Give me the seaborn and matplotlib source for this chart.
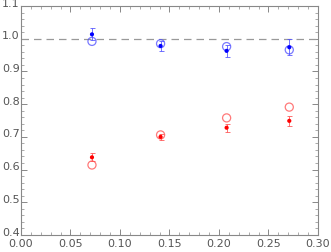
import matplotlib
matplotlib.use("Agg")
import matplotlib.pyplot as plt
import matplotlib.transforms as mtransforms
import seaborn as sns
import numpy as np
from matplotlib.ticker import MultipleLocator

# data
x = [0.0717, 0.141, 0.2077, 0.271]
blue_filled = [1.0135, 0.978, 0.963, 0.974]
blue_err = [0.018, 0.015, 0.018, 0.024]
blue_open = [0.992, 0.985, 0.976, 0.966]
red_filled = [0.6375, 0.700, 0.728, 0.749]
red_err = [0.012, 0.010, 0.012, 0.016]
red_open = [0.614, 0.706, 0.758, 0.791]

sns.set_style("ticks")
plt.rcParams['font.family'] = ['DejaVu Sans']

fig = plt.figure(figsize=(3.31, 2.52), dpi=100)
ax = fig.add_axes([0.0634, 0.0675, 0.8973, 0.9085])

ax.axhline(1.0, color='#999999', lw=0.9, ls=(0, (6, 4)), zorder=1)

ax.errorbar(x, blue_filled, yerr=blue_err, fmt='none', ecolor=(0.3, 0.3, 1.0, 0.8),
            elinewidth=0.7, capsize=1.8, capthick=0.7, zorder=2)
ax.errorbar(x, red_filled, yerr=red_err, fmt='none', ecolor=(1.0, 0.3, 0.3, 0.8),
            elinewidth=0.7, capsize=1.8, capthick=0.7, zorder=2)

sns.scatterplot(x=x, y=blue_open, ax=ax, marker='o', s=34, facecolor='none',
                edgecolor=(0.3, 0.3, 1.0, 0.75), linewidth=0.9, zorder=3)
sns.scatterplot(x=x, y=red_open, ax=ax, marker='o', s=34, facecolor='none',
                edgecolor=(1.0, 0.3, 0.3, 0.75), linewidth=0.9, zorder=3)
sns.scatterplot(x=x, y=blue_filled, ax=ax, marker='o', s=9, color='blue',
                edgecolor='none', zorder=4)
sns.scatterplot(x=x, y=red_filled, ax=ax, marker='o', s=9, color='red',
                edgecolor='none', zorder=4)

ax.set_xlim(0, 0.30)
ax.set_ylim(0.4, 1.1)
ax.xaxis.set_major_locator(MultipleLocator(0.05))
ax.xaxis.set_minor_locator(MultipleLocator(0.01))
ax.yaxis.set_major_locator(MultipleLocator(0.1))
ax.yaxis.set_minor_locator(MultipleLocator(0.02))
ax.set_xticks(np.arange(0, 0.301, 0.05))
ax.set_xticklabels(['%.2f' % v for v in np.arange(0, 0.301, 0.05)])
ax.set_yticklabels(['%.1f' % v for v in ax.get_yticks()])

for s in ax.spines.values():
    s.set_color('#888888')
    s.set_linewidth(0.8)
ax.tick_params(which='both', direction='in', top=True, right=True, color='#888888',
               labelcolor='#555555', labelsize=8)
ax.tick_params(axis='x', pad=3)
ax.tick_params(axis='y', pad=1)
ax.tick_params(which='major', length=4, width=0.7)
ax.tick_params(which='minor', length=2, width=0.5)

# nudge y labels up a little so 0.4 clears 0.00
shift = mtransforms.ScaledTranslation(0, 2.5 / 72, fig.dpi_scale_trans)
for lab in ax.get_yticklabels():
    lab.set_transform(lab.get_transform() + shift)

fig.savefig('out.png', dpi=100)
